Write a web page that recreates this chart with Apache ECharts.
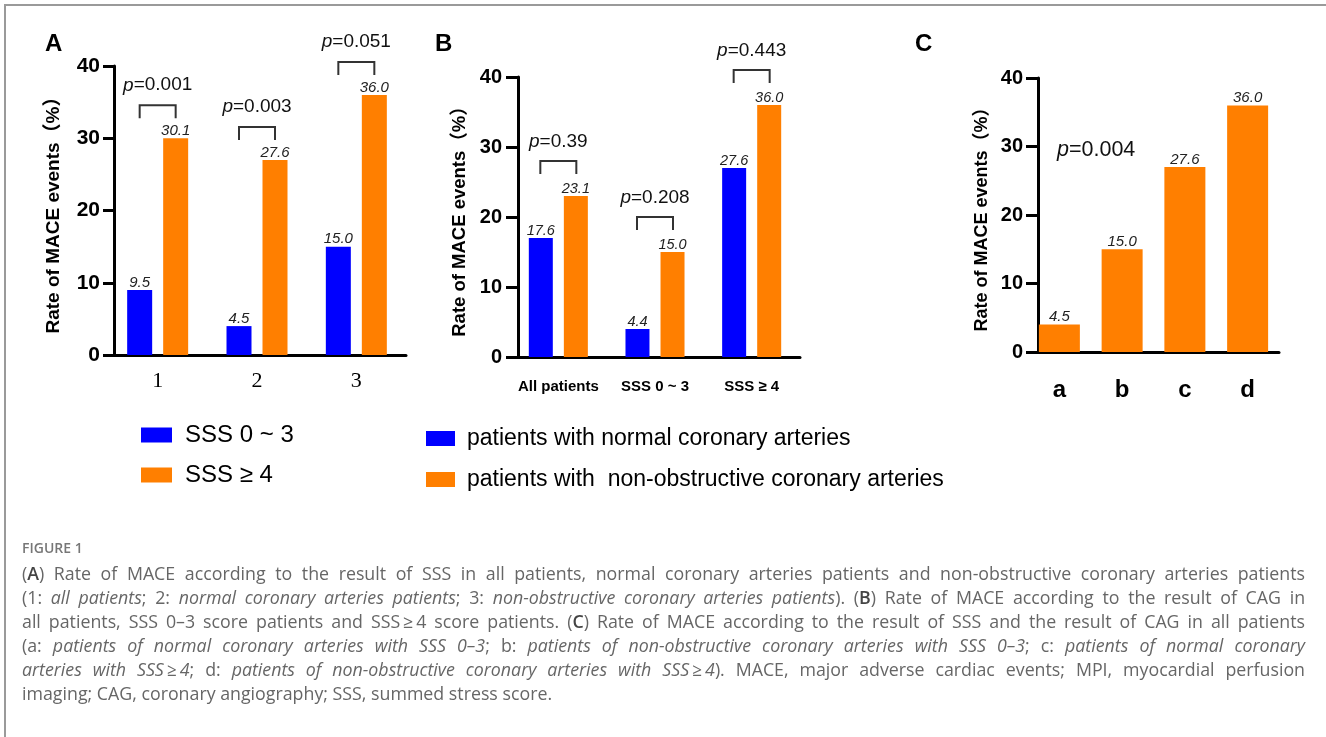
<!DOCTYPE html>
<html>
<head>
<meta charset="utf-8">
<script src="https://cdn.jsdelivr.net/npm/echarts@6/dist/echarts.min.js"></script>
<style>
  html, body { margin: 0; padding: 0; background: #fff; }
  #wrap { position: relative; width: 1326px; height: 737px; overflow: hidden; }
  #chart { position: absolute; left: 0; top: 0; width: 1326px; height: 737px; }
  #frame { position: absolute; left: 4px; top: 4px; right: -4px; bottom: -4px; border-top: 2px solid #9a9a9a; border-left: 2px solid #9a9a9a; pointer-events: none; }
  #caption { position: absolute; left: 22px; width: 1283px; top: 537px; font-family: "Open Sans", sans-serif; color: #666; }
  #caption .fig { font-size: 14px; font-weight: 600; color: #777; line-height: 22px; height: 24px; }
  #caption .ln { font-size: 17.8px; line-height: 24px; height: 24px; text-align: justify; text-align-last: justify; white-space: nowrap; }
  #caption .last { text-align-last: left; }
  #caption b { color: #444; font-weight: 600; }
</style>
</head>
<body>
<div id="wrap">
  <div id="chart"></div>
  <div id="frame"></div>
  <div id="caption">
    <div class="fig">FIGURE 1</div>
    <div class="ln">(<b>A</b>) Rate of MACE according to the result of SSS in all patients, normal coronary arteries patients and non-obstructive coronary arteries patients</div>
    <div class="ln">(1: <i>all patients</i>; 2: <i>normal coronary arteries patients</i>; 3: <i>non-obstructive coronary arteries patients</i>). (<b>B</b>) Rate of MACE according to the result of CAG in</div>
    <div class="ln">all patients, SSS 0–3 score patients and SSS&#8201;≥&#8201;4 score patients. (<b>C</b>) Rate of MACE according to the result of SSS and the result of CAG in all patients</div>
    <div class="ln">(a: <i>patients of normal coronary arteries with SSS 0–3</i>; b: <i>patients of non-obstructive coronary arteries with SSS 0–3</i>; c: <i>patients of normal coronary</i></div>
    <div class="ln"><i>arteries with SSS&#8201;≥&#8201;4</i>; d: <i>patients of non-obstructive coronary arteries with SSS&#8201;≥&#8201;4</i>). MACE, major adverse cardiac events; MPI, myocardial perfusion</div>
    <div class="ln last">imaging; CAG, coronary angiography; SSS, summed stress score.</div>
  </div>
</div>
<script>
// panel A: by SSS group
var catsA = ['1', '2', '3'];
var lowA = [9, 4, 15];
var highA = [30, 27, 36];
var lowLabelA = ['9.5', '4.5', '15.0'];
var highLabelA = ['30.1', '27.6', '36.0'];
var pA = ['0.001', '0.003', '0.051'];

// panel B: by CAG result
var catsB = ['All patients', 'SSS 0 ~ 3', 'SSS ≥ 4'];
var normalB = [17, 4, 27];
var nonObsB = [23, 15, 36];
var normalLabelB = ['17.6', '4.4', '27.6'];
var nonObsLabelB = ['23.1', '15.0', '36.0'];
var pB = ['0.39', '0.208', '0.443'];

// panel C: combined
var catsC = ['a', 'b', 'c', 'd'];
var valC = [4, 15, 27, 36];
var labelC = ['4.5', '15.0', '27.6', '36.0'];
var pC = '0.004';

var blue = '#0000ff';
var orange = '#ff7f00';
var sans = 'Liberation Sans, Arial, Noto Sans CJK SC, sans-serif';
var yName = 'Rate of MACE events（%）';

var chart = echarts.init(document.getElementById('chart'));

function yAxisFor(idx, offset, tickLen, labelSize, nameSize, nameGap, margin) {
  return {
    type: 'value', gridIndex: idx, min: 0, max: 40, interval: 10, offset: offset,
    name: yName, nameLocation: 'middle', nameGap: nameGap, nameRotate: 90,
    nameTextStyle: { fontFamily: sans, fontWeight: 'bold', fontSize: nameSize, color: '#000' },
    axisLine: { show: true, lineStyle: { color: '#000', width: 3 } },
    axisTick: { show: true, length: tickLen, lineStyle: { color: '#000', width: 3 } },
    axisLabel: { fontFamily: sans, fontWeight: 'bold', fontSize: labelSize, color: '#000', margin: margin },
    splitLine: { show: false }
  };
}

function xAxisFor(idx, cats, labelStyle, margin) {
  return {
    type: 'category', gridIndex: idx, data: cats,
    axisLine: { lineStyle: { color: '#000', width: 3 } },
    axisTick: { alignWithLabel: true, length: 10, lineStyle: { color: '#000', width: 3 } },
    axisLabel: Object.assign({ color: '#000', margin: margin, interval: 0, hideOverlap: false }, labelStyle)
  };
}

function barLabel(texts, size) {
  return {
    show: true, position: 'top', distance: 0,
    fontFamily: sans, fontStyle: 'italic', fontSize: size, color: '#222',
    formatter: function (p) { return texts[p.dataIndex]; }
  };
}

// bracket + p value drawn above each pair of bars
function bracketSeries(idx, highs, pvals, half, lift, legLen, textGap, fontSize) {
  return {
    type: 'custom', xAxisIndex: idx, yAxisIndex: idx, silent: true, z: 5,
    data: highs.map(function (v, i) { return [i, v]; }),
    renderItem: function (params, api) {
      var pt = api.coord([api.value(0), api.value(1)]);
      var x = pt[0], yTop = pt[1] - lift;
      return {
        type: 'group',
        children: [{
          type: 'polyline',
          shape: { points: [[x - half, yTop + legLen], [x - half, yTop], [x + half, yTop], [x + half, yTop + legLen]] },
          style: { stroke: '#333', lineWidth: 2, fill: null }
        }, {
          type: 'text',
          style: {
            text: '{i|p}=' + pvals[params.dataIndex],
            x: x, y: yTop - textGap, align: 'center', verticalAlign: 'middle',
            font: fontSize + 'px ' + sans, fill: '#111',
            rich: { i: { fontStyle: 'italic', fontSize: fontSize, fontFamily: sans, fill: '#111' } }
          }
        }]
      };
    }
  };
}

var option = {
  backgroundColor: '#fff',
  animation: false,
  grid: [
    { left: 108, top: 66, width: 298, height: 289 },
    { left: 510, top: 77, width: 290, height: 280 },
    { left: 1028, top: 78, width: 251, height: 274 }
  ],
  xAxis: [
    xAxisFor(0, catsA, { fontFamily: 'Liberation Serif, Times New Roman, serif', fontSize: 22 }, 15),
    xAxisFor(1, catsB, { fontFamily: sans, fontWeight: 'bold', fontSize: 15 }, 22),
    xAxisFor(2, catsC, { fontFamily: sans, fontWeight: 'bold', fontSize: 24 }, 26)
  ],
  yAxis: [
    yAxisFor(0, -6, 11, 21, 19, 51, 14),
    yAxisFor(1, -8, 12, 20, 18.5, 49, 16),
    yAxisFor(2, -10, 12, 20, 18, 47, 15)
  ],
  legend: [{
    data: ['SSS 0 ~ 3', 'SSS ≥ 4'],
    orient: 'vertical', left: 136, top: 418, itemWidth: 31, itemHeight: 15, itemGap: 16,
    icon: 'rect', selectedMode: false,
    textStyle: { fontFamily: sans, fontSize: 24, color: '#000', padding: [0, 0, 0, 8] }
  }, {
    data: ['patients with normal coronary arteries', 'patients with  non-obstructive coronary arteries'],
    orient: 'vertical', left: 421, top: 422, itemWidth: 29, itemHeight: 15, itemGap: 18,
    icon: 'rect', selectedMode: false,
    textStyle: { fontFamily: sans, fontSize: 23, color: '#000', padding: [0, 0, 0, 7] }
  }],
  graphic: [
    { type: 'text', left: 45, top: 32, style: { text: 'A', font: 'bold 24px ' + sans, fill: '#000' } },
    { type: 'text', left: 435, top: 32, style: { text: 'B', font: 'bold 24px ' + sans, fill: '#000' } },
    { type: 'text', left: 915, top: 32, style: { text: 'C', font: 'bold 24px ' + sans, fill: '#000' } },
    {
      type: 'text', left: 1057, top: 139,
      style: {
        text: '{i|p}=' + pC, font: '21.5px ' + sans, fill: '#111',
        rich: { i: { fontStyle: 'italic', fontSize: 21.5, fontFamily: sans, fill: '#111' } }
      }
    }
  ],
  series: [
    { name: 'SSS 0 ~ 3', type: 'bar', xAxisIndex: 0, yAxisIndex: 0, data: lowA, barWidth: 25, barGap: '44%',
      itemStyle: { color: blue }, label: barLabel(lowLabelA, 15) },
    { name: 'SSS ≥ 4', type: 'bar', xAxisIndex: 0, yAxisIndex: 0, data: highA, barWidth: 25, barGap: '44%',
      itemStyle: { color: orange }, label: barLabel(highLabelA, 15) },
    { name: 'patients with normal coronary arteries', type: 'bar', xAxisIndex: 1, yAxisIndex: 1, data: normalB, barWidth: 24, barGap: '46%',
      itemStyle: { color: blue }, label: barLabel(normalLabelB, 14.5) },
    { name: 'patients with  non-obstructive coronary arteries', type: 'bar', xAxisIndex: 1, yAxisIndex: 1, data: nonObsB, barWidth: 24, barGap: '46%',
      itemStyle: { color: orange }, label: barLabel(nonObsLabelB, 14.5) },
    { name: 'C', type: 'bar', xAxisIndex: 2, yAxisIndex: 2, data: valC, barWidth: 41,
      itemStyle: { color: orange }, label: barLabel(labelC, 15) },
    bracketSeries(0, highA, pA, 18, 33, 13, 20, 19),
    bracketSeries(1, nonObsB, pB, 18, 35, 13, 19, 19)
  ]
};

chart.setOption(option);
</script>
</body>
</html>
